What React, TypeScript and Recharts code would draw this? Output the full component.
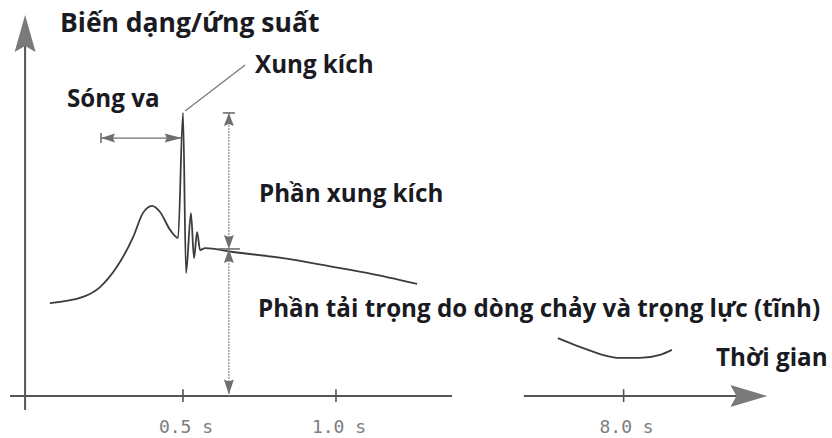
import { LineChart, Line, XAxis, YAxis, ReferenceLine, ReferenceDot, Customized } from 'recharts';

// Strain / stress response of a structure hit by a wave (arbitrary units, time in s)
const impactTimes = [0.065, 0.173, 0.229, 0.284, 0.337, 0.369, 0.399, 0.425, 0.458, 0.484, 0.5, 0.51, 0.526, 0.536, 0.546, 0.556, 0.572, 0.663, 0.827, 0.99, 1.101, 1.265];
const impactLoads = [24.4, 26.0, 28.6, 33.9, 41.7, 48.0, 49.9, 48.3, 43.6, 41.5, 74.3, 32.3, 48.0, 36.2, 43.0, 38.3, 38.8, 37.8, 36.2, 33.9, 32.3, 29.4];

// later stretch of the record, around 8 s
const lateTimes = [7.785, 7.857, 7.923, 7.988, 8.053, 8.119, 8.158];
const lateLoads = [15.2, 12.9, 11.0, 10.0, 10.0, 10.8, 12.1];

const tickTimes = [0.5, 1.0, 8.0];
const tickLabels = ['0.5 s', '1.0 s', '8.0 s'];

// annotation levels
const shockPeak = 74.3;
const quasiStatic = 38.6;
const shockTime = 0.5;
const dimTime = 0.65;
const waveStart = 0.232;

// the time axis is broken between these two instants
const BREAK_FROM = 1.379;
const BREAK_TO = 7.674;
const BREAK_SHIFT = 6.06;
const axisPos = (t: number) => (t > 4 ? t - BREAK_SHIFT : t);

const X_DOMAIN: [number, number] = [-0.098, 2.621];
const Y_DOMAIN: [number, number] = [-11.02, 103.94];

// one table, the two stretches kept in separate keys so the line breaks between them
const chartData = [
  ...impactTimes.map((t, i) => ({ x: axisPos(t), impact: impactLoads[i] })),
  ...lateTimes.map((t, i) => ({ x: axisPos(t), late: lateLoads[i] })),
];

const AXIS = '#555';
const DIM = '#6f6f6f';
const CURVE = '#3c3c3c';
const TEXT = '#1a1a22';

const DIRS: Record<string, [number, number]> = {
  right: [1, 0],
  left: [-1, 0],
  up: [0, -1],
  down: [0, 1],
};

// arrow head with its tip at (cx, cy), optional cap bar across the tip
const Arrow = (props: any) => {
  const { cx, cy, dir, len, half, notch = 0, cap = 0, color = DIM } = props;
  const [dx, dy] = DIRS[dir];
  const nx = -dy;
  const ny = dx;
  const bx = cx - dx * len;
  const by = cy - dy * len;
  const pts = [
    [cx, cy],
    [bx + nx * half, by + ny * half],
    [cx - dx * (len - notch), cy - dy * (len - notch)],
    [bx - nx * half, by - ny * half],
  ]
    .map((p) => p.join(','))
    .join(' ');
  return (
    <g>
      <polygon points={pts} fill={color} stroke="none" />
      {cap > 0 && (
        <line x1={cx - nx * cap} y1={cy - ny * cap} x2={cx + nx * cap} y2={cy + ny * cap} stroke={color} strokeWidth={1.6} />
      )}
    </g>
  );
};

const TickLabel = (props: any) => (
  <text x={props.cx + 3} y={props.cy} textAnchor="middle" fontFamily="DejaVu Sans Mono" fontSize={18} fill="#7d7d7d">
    {props.label}
  </text>
);

const labelStyle = { fontFamily: 'Open Sans', fontWeight: 700, fontSize: 24.2, fill: TEXT } as const;

const Annotations = () => (
  <g>
    <text x={60} y={32} {...labelStyle} fontSize={26.5}>Biến dạng/ứng suất</text>
    <text x={255} y={73} {...labelStyle}>Xung kích</text>
    <text x={67} y={107} {...labelStyle}>Sóng va</text>
    <text x={259} y={202} {...labelStyle}>Phần xung kích</text>
    <text x={258} y={317} {...labelStyle}>Phần tải trọng do dòng chảy và trọng lực (tĩnh)</text>
    <text x={716} y={366} {...labelStyle}>Thời gian</text>
  </g>
);

export default function App() {
  return (
    <div style={{ position: 'absolute', left: 0, top: 0, width: 832, height: 438, background: '#fff' }}>
      <LineChart width={832} height={438} data={chartData} margin={{ top: 0, right: 0, bottom: 0, left: 0 }}>
        <XAxis type="number" dataKey="x" domain={X_DOMAIN} allowDataOverflow hide />
        <YAxis type="number" domain={Y_DOMAIN} allowDataOverflow hide />

        {/* axes */}
        <ReferenceLine segment={[{ x: -0.016, y: -3.7 }, { x: -0.016, y: 92 }]} stroke={AXIS} strokeWidth={2} />
        <ReferenceLine segment={[{ x: -0.065, y: 0 }, { x: BREAK_FROM, y: 0 }]} stroke={AXIS} strokeWidth={2} />
        <ReferenceLine segment={[{ x: axisPos(BREAK_TO), y: 0 }, { x: axisPos(8.4), y: 0 }]} stroke={AXIS} strokeWidth={2} />
        <ReferenceDot x={-0.016} y={100} r={0} shape={(p: any) => <Arrow cx={p.cx} cy={p.cy} dir="up" len={37} half={10.5} notch={6} color="#7a7a7a" />} />
        <ReferenceDot x={axisPos(8.47)} y={0} r={0} shape={(p: any) => <Arrow cx={p.cx} cy={p.cy} dir="right" len={37} half={11} notch={6} color="#7a7a7a" />} />

        {tickTimes.map((t, i) => (
          <ReferenceLine key={`tk${i}`} segment={[{ x: axisPos(t), y: -1.6 }, { x: axisPos(t), y: 1.8 }]} stroke={AXIS} strokeWidth={1.6} />
        ))}
        {tickTimes.map((t, i) => (
          <ReferenceDot key={`tl${i}`} x={axisPos(t)} y={-9.6} r={0} shape={(p: any) => <TickLabel cx={p.cx} cy={p.cy} label={tickLabels[i]} />} />
        ))}

        {/* wave travel time */}
        <ReferenceLine segment={[{ x: waveStart, y: 67.7 }, { x: shockTime - 0.004, y: 67.7 }]} stroke={DIM} strokeWidth={1.4} />
        <ReferenceDot x={waveStart} y={67.7} r={0} shape={(p: any) => <Arrow cx={p.cx} cy={p.cy} dir="left" len={14} half={4.5} notch={2} cap={5} />} />
        <ReferenceDot x={shockTime - 0.004} y={67.7} r={0} shape={(p: any) => <Arrow cx={p.cx} cy={p.cy} dir="right" len={17} half={4.5} notch={2} />} />

        {/* leader to the shock peak */}
        <ReferenceLine segment={[{ x: 0.507, y: 74.8 }, { x: 0.703, y: 86.9 }]} stroke="#777" strokeWidth={1.2} />

        {/* shock part / quasi-static part dimension */}
        <ReferenceLine segment={[{ x: dimTime, y: shockPeak }, { x: dimTime, y: 0 }]} stroke="#8a8a8a" strokeWidth={1.2} strokeDasharray="2 1" />
        <ReferenceDot x={dimTime} y={shockPeak} r={0} shape={(p: any) => <Arrow cx={p.cx} cy={p.cy} dir="up" len={13} half={5} notch={2} cap={6} />} />
        <ReferenceDot x={dimTime} y={quasiStatic} r={0} shape={(p: any) => <Arrow cx={p.cx} cy={p.cy} dir="down" len={14} half={5} notch={2} cap={11} />} />
        <ReferenceDot x={dimTime} y={quasiStatic} r={0} shape={(p: any) => <Arrow cx={p.cx} cy={p.cy} dir="up" len={14} half={5} notch={2} />} />
        <ReferenceDot x={dimTime} y={0.4} r={0} shape={(p: any) => <Arrow cx={p.cx} cy={p.cy} dir="down" len={15} half={5} notch={2} />} />

        <Line dataKey="impact" type="monotone" stroke={CURVE} strokeWidth={1.8} dot={false} activeDot={false} isAnimationActive={false} />
        <Line dataKey="late" type="monotone" stroke={CURVE} strokeWidth={1.8} dot={false} activeDot={false} isAnimationActive={false} />

        <Customized component={Annotations} />
      </LineChart>
    </div>
  );
}
